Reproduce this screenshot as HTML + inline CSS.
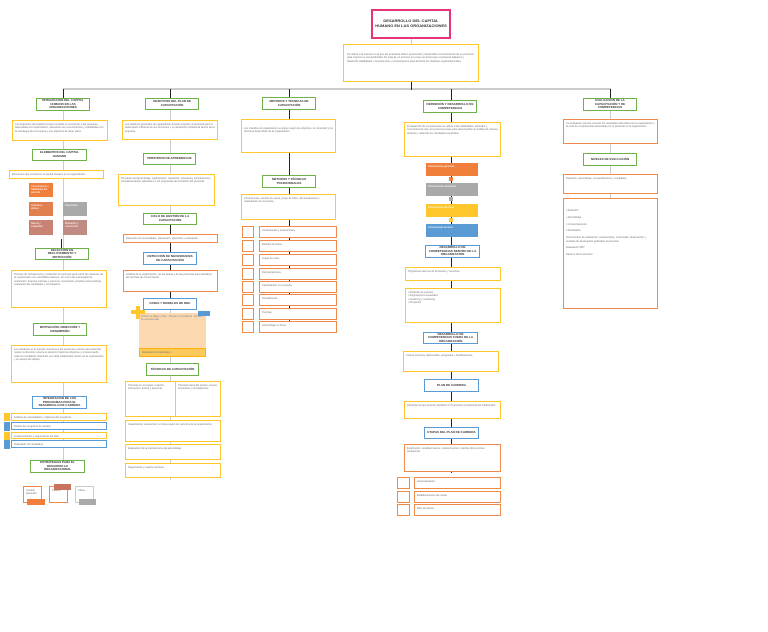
<!DOCTYPE html>
<html><head><meta charset="utf-8"><style>
body{margin:0;width:768px;height:632px;background:#fff;position:relative;overflow:hidden;font-family:"Liberation Sans",sans-serif}
.b{position:absolute;box-sizing:border-box;border:1.5px solid;background:#fff;overflow:hidden;font-size:2.6px;line-height:3.4px;color:#777;padding:2px}
.g{border-color:#6db24a}.y{border-color:#ffc72c}.o{border-color:#f08a4b}.u{border-color:#5b9bd5}.p{border-color:#e8347a;border-width:2px}
.h{font-weight:bold;color:#333;text-align:center;font-size:3px;line-height:3.6px;display:flex;align-items:center;justify-content:center}
.l{position:absolute;background:#222}
.gl{position:absolute;background:#ccc}
.f{position:absolute;box-sizing:border-box;font-size:2.4px;line-height:3px;color:#fff;padding:2px;overflow:hidden}
</style></head><body>
<div class="gl" style="left:63px;top:88px;width:548px;height:2px"></div>
<div class="l" style="left:411px;top:82px;width:1px;height:8px"></div>
<div class="gl" style="left:411px;top:39px;width:1px;height:5px"></div>
<div class="l" style="left:63px;top:89px;width:1px;height:9px"></div>
<div class="l" style="left:170px;top:89px;width:1px;height:9px"></div>
<div class="l" style="left:289px;top:89px;width:1px;height:8px"></div>
<div class="l" style="left:451px;top:89px;width:1px;height:11px"></div>
<div class="l" style="left:610px;top:89px;width:1px;height:9px"></div>
<div class="gl" style="left:63px;top:111px;width:1px;height:360px"></div>
<div class="gl" style="left:170px;top:110px;width:1px;height:370px"></div>
<div class="l" style="left:289px;top:110px;width:1px;height:223px"></div>
<div class="l" style="left:451px;top:113px;width:1px;height:360px"></div>
<div class="gl" style="left:610px;top:111px;width:1px;height:90px"></div>
<div class="l" style="left:170px;top:225px;width:1px;height:73px"></div>

<div class="b p h" style="left:371px;top:9px;width:80px;height:30px;font-size:4px;line-height:4.6px">DESARROLLO DEL CAPITAL HUMANO EN LAS ORGANIZACIONES</div>
<div class="b y" style="left:343px;top:44px;width:136px;height:38px;padding:8px 3px">Se refiere a la manera en la que las empresas deben aprovechar y desarrollar el conocimiento de su personal para mejorar su competitividad. Se trata de un proceso en el que se busca que el personal adquiera y desarrolle habilidades, competencias y conocimientos para alcanzar los objetivos organizacionales.</div>

<div class="b g h" style="left:36px;top:98px;width:54px;height:13px">INTEGRACIÓN DEL CAPITAL HUMANO EN LAS ORGANIZACIONES</div>
<div class="b y" style="left:12px;top:120px;width:96px;height:21px">La integración del capital humano consiste en incorporar a las personas adecuadas a la organización, alineando sus conocimientos y habilidades con la estrategia de la empresa y sus objetivos de largo plazo.</div>
<div class="b g h" style="left:32px;top:149px;width:55px;height:12px">ELEMENTOS DEL CAPITAL HUMANO</div>
<div class="b y" style="left:9px;top:170px;width:95px;height:9px">Elementos que componen el capital humano en la organización.</div>
<div class="f" style="left:29px;top:183px;width:24px;height:14px;background:#f07f3c">Conocimientos y habilidades del personal</div>
<div class="f" style="left:29px;top:202px;width:24px;height:14px;background:#e0804f">Actitudes y valores</div>
<div class="f" style="left:63px;top:202px;width:24px;height:14px;background:#a9a9a9">Experiencia</div>
<div class="f" style="left:29px;top:220px;width:24px;height:15px;background:#c98375">Talento y creatividad</div>
<div class="f" style="left:63px;top:220px;width:24px;height:15px;background:#c08b82">Motivación y compromiso</div>
<div class="l" style="left:61px;top:239px;width:1px;height:9px"></div>
<div class="b g h" style="left:35px;top:248px;width:54px;height:12px">SELECCIÓN EN RECLUTAMIENTO Y MOTIVACIÓN</div>
<div class="b y" style="left:11px;top:270px;width:96px;height:38px">Proceso de reclutamiento y selección de personal para cubrir las vacantes de la organización con candidatos idóneos, así como las estrategias de motivación. Fuentes internas y externas, entrevistas, pruebas psicométricas, evaluación de candidatos y contratación.</div>
<div class="b g h" style="left:33px;top:323px;width:54px;height:13px">MOTIVACIÓN, DIRECCIÓN Y DESEMPEÑO</div>
<div class="b y" style="left:11px;top:345px;width:96px;height:38px">La motivación es el impulso que lleva a las personas a actuar para alcanzar metas; la dirección orienta el esfuerzo hacia los objetivos y el desempeño mide los resultados obtenidos por cada colaborador dentro de la organización y su equipo de trabajo.</div>
<div class="b u h" style="left:32px;top:396px;width:55px;height:13px">INTEGRACIÓN DE LOS PROGRAMAS PARA EL DESARROLLO DE CARRERA</div>
<div class="b y" style="left:11px;top:413px;width:96px;height:8px;border-width:1px">Análisis de necesidades y objetivos del programa.</div>
<div class="b u" style="left:11px;top:422px;width:96px;height:8px;border-width:1px">Diseño del programa de carrera.</div>
<div class="b y" style="left:11px;top:432px;width:96px;height:7px;border-width:1px">Implementación y seguimiento del plan.</div>
<div class="b u" style="left:11px;top:440px;width:96px;height:8px;border-width:1px">Evaluación de resultados.</div>
<div class="f" style="left:4px;top:413px;width:6px;height:8px;background:#ffc72c"></div>
<div class="f" style="left:4px;top:422px;width:6px;height:9px;background:#5b9bd5"></div>
<div class="f" style="left:4px;top:432px;width:6px;height:8px;background:#ffc72c"></div>
<div class="f" style="left:4px;top:440px;width:6px;height:9px;background:#5b9bd5"></div>
<div class="b g h" style="left:30px;top:460px;width:55px;height:13px">ESTRATEGIAS PARA EL DESARROLLO ORGANIZACIONAL</div>
<div class="b o" style="left:23px;top:486px;width:19px;height:17px;border-width:1px">Cambio planeado</div>
<div class="b o" style="left:49px;top:486px;width:19px;height:17px;border-width:1px">Cultura</div>
<div class="b" style="left:75px;top:486px;width:19px;height:17px;border:1px solid #ccc">Clima</div>
<div class="f" style="left:27px;top:499px;width:18px;height:6px;background:#f07f3c"></div>
<div class="f" style="left:54px;top:484px;width:17px;height:6px;background:#c9735f"></div>
<div class="f" style="left:79px;top:499px;width:17px;height:6px;background:#a9a9a9"></div>

<div class="b g h" style="left:145px;top:98px;width:54px;height:12px">OBJETIVOS DEL PLAN DE CAPACITACIÓN</div>
<div class="b y" style="left:122px;top:120px;width:96px;height:20px">Los objetivos generales de capacitación buscan preparar al personal para el desempeño eficiente de sus funciones y su desarrollo profesional dentro de la empresa.</div>
<div class="b g h" style="left:143px;top:153px;width:53px;height:12px">PRINCIPIOS DE APRENDIZAJE</div>
<div class="b y" style="left:118px;top:174px;width:97px;height:32px">Principios del aprendizaje: participación, repetición, relevancia, transferencia y retroalimentación aplicados en los programas de formación del personal.</div>
<div class="b g h" style="left:143px;top:213px;width:54px;height:12px">CICLO DE GESTIÓN DE LA CAPACITACIÓN</div>
<div class="b o" style="left:123px;top:234px;width:95px;height:9px">Detección de necesidades, planeación, ejecución y evaluación.</div>
<div class="b u h" style="left:143px;top:252px;width:54px;height:13px">DETECCIÓN DE NECESIDADES DE CAPACITACIÓN</div>
<div class="b o" style="left:123px;top:270px;width:95px;height:22px">Análisis de la organización, de las tareas y de las personas para identificar las brechas de conocimiento.</div>
<div class="b u h" style="left:143px;top:298px;width:54px;height:12px">FASES Y MODELOS DE DNC</div>
<div class="f" style="left:139px;top:313px;width:67px;height:35px;background:#fcd9b0;color:#888">Modelo de Mager y Pipe · Modelo de Kirkpatrick · Modelo de competencias</div>
<div class="f" style="left:131px;top:310px;width:14px;height:4px;background:#ffc72c"></div>
<div class="f" style="left:136px;top:306px;width:4px;height:13px;background:#ffc72c"></div>
<div class="f" style="left:198px;top:311px;width:12px;height:5px;background:#5b9bd5"></div>
<div class="f" style="left:139px;top:348px;width:67px;height:9px;background:#fbc95c;border:1px solid #ffb300;color:#777">Resultados del diagnóstico</div>
<div class="b g h" style="left:146px;top:363px;width:53px;height:13px">TÉCNICAS DE CAPACITACIÓN</div>
<div class="b y" style="left:125px;top:381px;width:51px;height:36px">Técnicas en el puesto: rotación, instrucción, tutoría y asesoría.</div>
<div class="b y" style="left:175px;top:381px;width:46px;height:36px">Técnicas fuera del puesto: cursos, seminarios y simulaciones.</div>
<div class="b y" style="left:125px;top:420px;width:96px;height:22px">Capacitación presencial y en línea según los recursos de la organización.</div>
<div class="b y" style="left:125px;top:444px;width:96px;height:16px">Evaluación de la transferencia del aprendizaje.</div>
<div class="b y" style="left:125px;top:463px;width:96px;height:15px">Seguimiento y mejora continua.</div>

<div class="b g h" style="left:262px;top:97px;width:54px;height:13px">MÉTODOS Y TÉCNICAS DE CAPACITACIÓN</div>
<div class="b y" style="left:241px;top:119px;width:95px;height:34px;padding-top:7px">Los métodos de capacitación se eligen según los objetivos, el contenido y los recursos disponibles de la organización.</div>
<div class="b g h" style="left:262px;top:175px;width:54px;height:13px">MÉTODOS Y TÉCNICAS TRADICIONALES</div>
<div class="b y" style="left:241px;top:194px;width:95px;height:26px">Conferencias, estudio de casos, juego de roles, demostraciones y capacitación en el puesto.</div>
<div class="b o" style="left:242px;top:226px;width:12px;height:12px;border-width:1px"></div><div class="b o" style="left:259px;top:226px;width:78px;height:12px">Conferencias y exposiciones.</div>
<div class="b o" style="left:242px;top:240px;width:12px;height:12px;border-width:1px"></div><div class="b o" style="left:259px;top:240px;width:78px;height:12px">Estudio de casos.</div>
<div class="b o" style="left:242px;top:254px;width:12px;height:12px;border-width:1px"></div><div class="b o" style="left:259px;top:254px;width:78px;height:12px">Juego de roles.</div>
<div class="b o" style="left:242px;top:268px;width:12px;height:12px;border-width:1px"></div><div class="b o" style="left:259px;top:268px;width:78px;height:12px">Demostraciones.</div>
<div class="b o" style="left:242px;top:281px;width:12px;height:12px;border-width:1px"></div><div class="b o" style="left:259px;top:281px;width:78px;height:12px">Capacitación en el puesto.</div>
<div class="b o" style="left:242px;top:294px;width:12px;height:12px;border-width:1px"></div><div class="b o" style="left:259px;top:294px;width:78px;height:12px">Simulaciones.</div>
<div class="b o" style="left:242px;top:308px;width:12px;height:12px;border-width:1px"></div><div class="b o" style="left:259px;top:308px;width:78px;height:12px">Tutorías.</div>
<div class="b o" style="left:242px;top:321px;width:12px;height:12px;border-width:1px"></div><div class="b o" style="left:259px;top:321px;width:78px;height:12px">Aprendizaje en línea.</div>

<div class="b g h" style="left:423px;top:100px;width:54px;height:13px">DEFINICIÓN Y DESARROLLO DE COMPETENCIAS</div>
<div class="b y" style="left:404px;top:122px;width:97px;height:35px">El desarrollo de competencias se refiere a las habilidades, actitudes y conocimientos que una persona posee para desempeñar su trabajo de manera eficiente y alcanzar los resultados esperados.</div>
<div class="f" style="left:426px;top:163px;width:52px;height:13px;background:#f07f3c">Competencias genéricas</div>
<div class="f" style="left:449px;top:177px;width:4px;height:4px;background:#f07f3c"></div>
<div class="f" style="left:426px;top:183px;width:52px;height:13px;background:#a9a9a9">Competencias específicas</div>
<div class="f" style="left:449px;top:197px;width:4px;height:4px;background:#a9a9a9"></div>
<div class="f" style="left:426px;top:204px;width:52px;height:13px;background:#ffc72c">Competencias directivas</div>
<div class="f" style="left:449px;top:218px;width:4px;height:4px;background:#ffc72c"></div>
<div class="f" style="left:426px;top:224px;width:52px;height:13px;background:#5b9bd5">Competencias técnicas</div>
<div class="b u h" style="left:425px;top:245px;width:55px;height:13px">DESARROLLO DE COMPETENCIAS DENTRO DE LA ORGANIZACIÓN</div>
<div class="b y" style="left:405px;top:267px;width:96px;height:14px">Programas internos de formación y mentoría.</div>
<div class="b y" style="left:405px;top:288px;width:96px;height:35px">• Rotación de puestos<br>• Asignaciones especiales<br>• Coaching y mentoring<br>• Proyectos</div>
<div class="b u h" style="left:423px;top:332px;width:55px;height:12px">DESARROLLO DE COMPETENCIAS FUERA DE LA ORGANIZACIÓN</div>
<div class="b y" style="left:403px;top:351px;width:96px;height:21px">Cursos externos, diplomados, posgrados y certificaciones.</div>
<div class="b u h" style="left:424px;top:379px;width:55px;height:13px">PLAN DE CARRERA</div>
<div class="b y" style="left:404px;top:401px;width:97px;height:18px">Herramienta que permite planificar el crecimiento profesional del colaborador.</div>
<div class="b u h" style="left:424px;top:427px;width:55px;height:12px">ETAPAS DEL PLAN DE CARRERA</div>
<div class="b o" style="left:404px;top:444px;width:97px;height:28px">Exploración, establecimiento, mantenimiento y declive de la carrera profesional.</div>
<div class="b o" style="left:397px;top:477px;width:13px;height:12px;border-width:1px"></div><div class="b o" style="left:414px;top:477px;width:87px;height:12px">Autoevaluación.</div>
<div class="b o" style="left:397px;top:491px;width:13px;height:12px;border-width:1px"></div><div class="b o" style="left:414px;top:491px;width:87px;height:12px">Establecimiento de metas.</div>
<div class="b o" style="left:397px;top:504px;width:13px;height:12px;border-width:1px"></div><div class="b o" style="left:414px;top:504px;width:87px;height:12px">Plan de acción.</div>

<div class="b g h" style="left:583px;top:98px;width:54px;height:13px">EVALUACIÓN DE LA CAPACITACIÓN Y DE COMPETENCIAS</div>
<div class="b o" style="left:563px;top:119px;width:95px;height:25px">La evaluación permite conocer los resultados obtenidos con la capacitación y el nivel de competencias alcanzado por el personal en la organización.</div>
<div class="b g h" style="left:583px;top:153px;width:54px;height:13px">NIVELES DE EVALUACIÓN</div>
<div class="b o" style="left:563px;top:174px;width:95px;height:20px">Reacción, aprendizaje, comportamiento y resultados.</div>
<div class="b o" style="left:563px;top:198px;width:95px;height:111px;padding-top:10px">• Reacción<br><br>• Aprendizaje<br><br>• Comportamiento<br><br>• Resultados<br><br>Instrumentos de evaluación: cuestionarios, entrevistas, observación y pruebas de desempeño aplicadas al personal.<br><br>Evaluación 360°<br><br>Retorno de la inversión</div>
</body></html>
